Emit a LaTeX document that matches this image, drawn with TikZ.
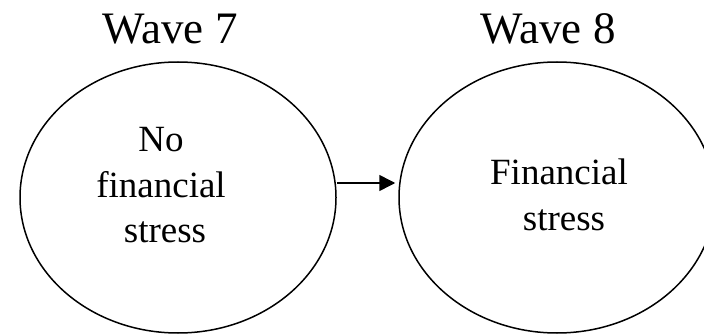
\documentclass[tikz,border=0pt]{standalone}
\usepackage{fontspec}
\setmainfont{Liberation Serif}
\usetikzlibrary{shapes.geometric,arrows.meta}
\begin{document}
\begin{tikzpicture}[x=1pt,y=-1pt,
  wave/.style={ellipse,draw,line width=1.5pt,minimum width=316pt,minimum height=271pt,inner sep=0pt},
  title/.style={font=\fontsize{45}{50}\selectfont,anchor=base,inner sep=0pt},
  inner/.style={font=\fontsize{37}{45.5}\selectfont,align=center,inner sep=0pt}]
\useasboundingbox (0,0) rectangle (704,334);
\clip (0,0) rectangle (704,334);
\node[wave] (w7) at (178,197.5) {};
\node[wave] (w8) at (557,197.5) {};
\node[title] (t7) at (170,44) {Wave 7};
\node[title] (t8) at (548,44) {Wave 8};
\node[inner] (l7) at (161,185.3) {No\\financial\\\hspace*{8pt}stress};
\node[inner] (l8) at (559,195) {Financial\\\hspace*{10pt}stress};
\draw[line width=1.5pt,-{Triangle[length=16pt,width=16pt]}] (w7.east |- 0,183) -- ([xshift=-3pt]w8.west |- 0,183);
\end{tikzpicture}
\end{document}
